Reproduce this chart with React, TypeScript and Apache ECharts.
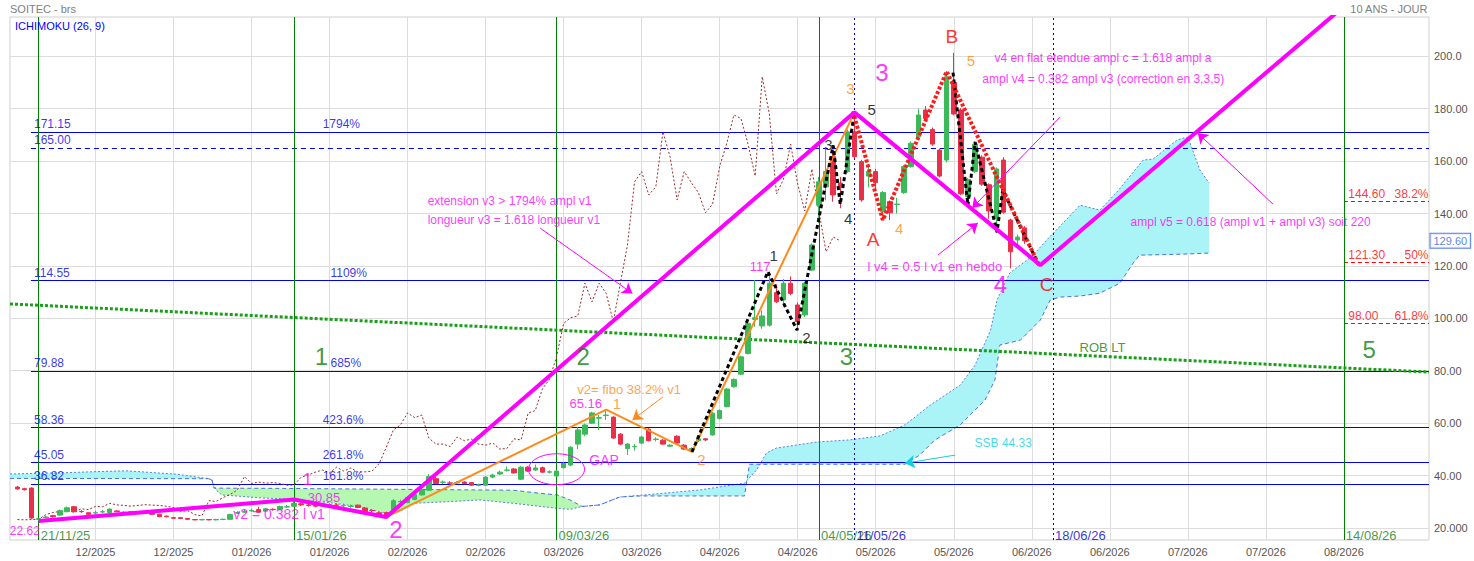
import React, { useEffect, useRef } from "react";
import * as echarts from "echarts";

const FONT = "'Liberation Sans', Arial, Helvetica, sans-serif";
const MAGENTA = "#ff00ff";
const ORANGE = "#ff8a1a";
const GREEN_C = "#3cba5a";
const RED_C = "#e8304a";
const BLUE = "#0000ee";
const CYAN = "#10d0e0";

// daily sessions [open, close, low, high]; index 3 = 21/11/25, 39 = 15/01/26, 76 = 09/03/26, 113 = 04/05/26
const ohlc: number[][] = [
  [35.6, 34.9, 34.6, 36.0], [35.0, 34.6, 34.3, 35.3], [35.2, 23.8, 23.5, 35.5], [23.3, 23.6, 22.62, 24.0],
  [23.9, 24.2, 23.6, 24.6], [24.7, 24.3, 24.0, 25.0], [24.9, 26.6, 24.6, 27.0], [26.2, 27.7, 26.0, 28.2],
  [28.1, 26.2, 25.9, 28.4], [26.3, 26.2, 25.8, 26.8], [25.8, 25.2, 25.0, 26.0], [25.7, 25.8, 25.2, 26.6],
  [26.1, 26.2, 25.6, 26.9], [25.9, 27.2, 25.7, 27.5], [26.5, 26.2, 26.0, 26.8], [26.0, 25.9, 25.6, 26.3],
  [26.0, 26.2, 25.8, 26.5], [26.1, 26.0, 25.7, 26.4], [25.9, 25.8, 25.5, 26.2], [25.8, 25.2, 25.0, 26.0],
  [25.2, 24.3, 24.1, 25.4], [24.5, 24.3, 24.0, 24.8], [23.9, 23.7, 23.5, 24.2], [23.9, 23.6, 23.4, 24.1],
  [23.6, 23.3, 23.1, 23.8], [23.2, 23.1, 22.9, 23.4], [23.1, 23.2, 22.9, 23.4], [23.2, 23.1, 22.9, 23.4],
  [23.1, 23.2, 22.9, 23.5], [23.2, 23.3, 23.0, 23.6], [23.3, 25.1, 23.1, 25.4], [25.6, 25.9, 25.3, 26.4],
  [26.0, 26.3, 25.7, 26.9], [26.5, 26.7, 26.2, 27.4], [27.0, 26.0, 25.8, 28.1], [26.4, 27.3, 26.2, 27.6],
  [27.1, 27.0, 26.6, 27.5], [27.0, 28.2, 26.8, 28.5], [28.0, 28.1, 27.6, 28.8], [28.3, 29.4, 28.0, 30.85],
  [29.2, 28.8, 28.3, 29.8], [28.8, 28.6, 28.1, 29.3], [28.5, 28.3, 27.9, 29.0], [28.4, 28.6, 28.0, 29.1],
  [28.7, 28.9, 28.3, 29.4], [28.8, 28.7, 28.3, 29.3], [28.5, 28.6, 28.0, 29.3], [28.2, 28.3, 27.7, 28.9],
  [28.7, 27.8, 27.5, 29.0], [27.6, 26.3, 26.0, 27.9], [26.7, 26.6, 26.1, 27.1], [25.8, 25.1, 24.8, 26.1],
  [25.9, 24.6, 24.2, 26.2], [26.6, 30.4, 26.2, 31.0], [30.0, 30.1, 29.4, 30.8], [29.7, 31.6, 29.4, 32.0],
  [30.9, 32.8, 30.6, 33.2], [32.6, 34.5, 32.3, 35.0], [34.4, 39.6, 34.1, 40.6], [38.8, 37.0, 36.6, 39.5],
  [37.4, 37.5, 36.8, 38.1], [37.2, 37.1, 36.6, 37.8], [37.2, 37.3, 36.8, 37.9], [37.5, 37.0, 36.7, 37.9],
  [37.3, 36.3, 36.0, 37.6], [36.3, 36.4, 35.9, 36.9], [36.3, 39.4, 36.0, 39.8], [39.4, 40.2, 39.0, 40.7],
  [40.6, 41.3, 40.2, 41.9], [42.0, 42.1, 41.5, 43.5], [42.5, 41.0, 40.7, 42.9], [38.6, 43.2, 38.3, 43.6],
  [43.2, 41.7, 41.4, 43.6], [42.1, 42.9, 41.8, 44.2], [43.0, 41.3, 41.0, 43.4], [41.3, 41.4, 40.8, 42.0],
  [39.8, 41.7, 39.5, 42.2], [43.0, 44.6, 42.7, 45.1], [44.0, 50.8, 43.6, 51.2], [52.0, 57.4, 50.1, 58.5],
  [55.8, 59.3, 55.0, 59.8], [60.0, 63.9, 59.6, 64.3], [61.9, 62.1, 57.4, 63.1], [62.9, 63.1, 61.2, 65.16],
  [62.3, 54.3, 54.0, 62.6], [55.8, 52.0, 51.6, 56.2], [50.3, 52.0, 47.8, 52.4], [51.0, 51.1, 49.5, 52.0],
  [52.4, 54.7, 52.0, 55.1], [57.7, 53.3, 53.0, 58.1], [53.8, 53.9, 53.0, 54.6], [53.5, 52.0, 51.7, 53.9],
  [51.2, 51.6, 50.9, 52.0], [55.0, 52.4, 52.1, 55.4], [51.6, 50.1, 49.8, 52.0], [49.6, 50.3, 49.0, 50.8],
  [53.3, 54.0, 52.8, 54.4], [54.0, 53.6, 53.2, 54.3], [55.5, 63.8, 55.2, 64.2], [61.8, 64.8, 61.4, 65.2],
  [66.3, 73.0, 66.0, 73.4], [73.9, 76.7, 73.5, 77.1], [78.7, 85.3, 78.3, 85.7], [86.6, 98.1, 86.2, 98.5],
  [99.6, 100.2, 96.8, 114.6], [97.1, 100.9, 96.0, 103.0], [97.4, 113.4, 96.8, 117.8], [109.8, 106.3, 105.8, 113.0],
  [107.0, 113.4, 104.5, 115.0], [113.4, 109.5, 108.8, 116.0], [105.1, 98.7, 95.5, 106.0], [101.3, 113.4, 100.5, 114.0],
  [118.4, 128.0, 118.0, 128.6], [143.2, 152.1, 136.3, 154.0], [150.2, 156.0, 145.0, 165.0], [161.7, 147.1, 144.5, 164.0],
  [151.6, 150.2, 142.0, 154.0], [156.0, 171.2, 155.5, 172.0], [171.2, 161.7, 161.0, 178.3], [159.8, 145.2, 144.5, 160.5],
  [154.3, 156.0, 150.0, 158.0], [156.0, 151.8, 149.0, 157.0], [140.7, 148.0, 139.0, 148.6], [144.5, 140.3, 137.5, 145.0],
  [143.4, 143.6, 140.0, 146.0], [148.0, 157.9, 147.5, 158.5], [157.9, 166.8, 157.5, 167.5], [169.3, 177.6, 168.8, 180.0],
  [179.5, 176.3, 175.8, 181.0], [172.1, 166.5, 165.8, 172.8], [164.2, 154.3, 153.8, 164.8], [160.4, 192.2, 159.5, 194.4],
  [190.0, 178.0, 177.5, 201.3], [179.5, 147.5, 147.0, 180.2], [146.5, 153.0, 145.8, 153.6], [156.0, 166.5, 155.5, 167.5],
  [161.5, 151.2, 150.6, 162.2], [151.0, 141.0, 138.0, 151.5], [138.2, 157.0, 132.5, 157.6], [160.4, 140.5, 139.9, 161.5],
  [137.5, 125.4, 119.1, 138.0], [129.9, 131.0, 128.0, 132.0], [134.5, 129.6, 128.4, 135.2],
];

const xTickValues = [11, 22, 33, 44, 55, 66, 77, 88, 99, 110, 121, 132, 143, 154, 165, 176, 187];
const xTickLabels = ["12/2025", "12/2025", "01/2026", "01/2026", "02/2026", "02/2026", "03/2026", "03/2026", "04/2026",
  "04/2026", "05/2026", "05/2026", "06/2026", "06/2026", "07/2026", "07/2026", "08/2026"];
const yTickValues = [20, 40, 60, 80, 100, 120, 140, 160, 180, 200];
const yTickLabels = ["20.000", "40.00", "60.00", "80.00", "100.00", "120.00", "140.00", "160.00", "180.00", "200.0"];

// Ichimoku cloud boundaries (span A dotted, span B dashed), [index, value]
const spanA1 = [[-1.05, 40.6], [7.0, 41.1], [11.2, 41.5], [15.4, 41.8], [18.7, 41.2], [22.5, 40.5], [25.7, 39.3], [26.9, 38.8], [27.4, 38.4]];
const spanB1 = [[-1.05, 38.9], [26.9, 38.8], [27.4, 38.4]];
const spanA2 = [[27.4, 38.4], [28.0, 34.5], [28.8, 32.6], [34.2, 31.5], [39.4, 30.8], [44.1, 29.6], [48.3, 28.1], [51.5, 25.8],
  [53.9, 26.2], [55.8, 29.4], [60.5, 30.0], [65.2, 30.7], [69.9, 29.4], [76.1, 27.5], [77.9, 27.1], [79.6, 28.2]];
const spanB2 = [[27.4, 38.4], [27.7, 35.2], [37.0, 35.1], [55.8, 34.7], [69.9, 34.4], [73.7, 33.2], [76.1, 32.6], [77.9, 30.7], [79.6, 28.2]];
const spanA3 = [[79.6, 28.2], [82.1, 28.8], [84.9, 31.8], [89.2, 32.8], [96.2, 34.5], [102.5, 37.1], [104.2, 42.1], [105.6, 48.6],
  [107.0, 50.5], [112.7, 52.8], [117.3, 53.6], [121.6, 55.1], [125.1, 59.3], [128.7, 66.9], [132.9, 74.5], [135.0, 82.1],
  [137.2, 95.5], [138.1, 107.0], [139.9, 117.3], [143.1, 123.8], [145.1, 129.9], [147.0, 135.2], [149.8, 143.2], [152.6, 141.3],
  [155.0, 148.2], [156.4, 152.8], [158.7, 160.4], [160.1, 160.8], [163.5, 168.1], [165.0, 169.2], [166.7, 156.6], [168.0, 151.6]];
const spanB3 = [[79.6, 28.2], [82.1, 28.8], [84.9, 31.8], [87.8, 32.2], [102.5, 32.2], [103.2, 44.3], [125.1, 44.3], [127.2, 47.8],
  [129.3, 53.5], [132.9, 59.3], [136.4, 68.8], [137.8, 76.4], [138.5, 89.8], [141.4, 91.7], [144.2, 99.3], [145.6, 107.0],
  [147.0, 108.1], [149.8, 108.5], [152.6, 109.6], [155.4, 113.4], [157.3, 121.1], [158.2, 124.1], [164.3, 124.5], [168.0, 124.9]];

const fibLevels = [171.15, 114.55, 79.88, 58.36, 45.05, 36.82];
const fibPercents = ["1794%", "1109%", "685%", "423.6%", "261.8%", "161.8%"];
const dashedLevel = 165.0;
const retraceLevels = [144.6, 121.3, 98.0];
const retracePercents = ["38.2%", "50%", "61.8%"];
const greenDates = [3, 39, 76, 113, 187];
const greenDateLabels = ["21/11/25", "15/01/26", "09/03/26", "04/05/26", "14/08/26"];
const blueDates = [118, 146];
const blueDateLabels = ["11/05/26", "18/06/26"];

const mainWave = [[3, 22.62], [39, 30.85], [52, 24.2], [118, 178.6], [144.2, 120.3], [190, 226]];
const orangeWave = [[52, 24.2], [83, 65.16], [95.1, 49.0], [118, 178.6]];
const blackWave1 = [[95.1, 49.0], [105.8, 117.8], [109.9, 95.5], [115, 166.0], [116, 143.5], [118, 178.6]];
const blackWave2 = [[131.9, 193.8], [134.0, 143.2], [135.0, 167.3], [138.1, 132.9], [138.9, 149.0], [144.0, 120.3]];
const abcWave = [[117.8, 179.0], [122.0, 137.5], [131.0, 194.2], [144.0, 120.3]];
const robLT = [[-1.05, 105.5], [199, 79.5]];
const lastPrice = 129.6;

export default function App() {
  const ref = useRef<HTMLDivElement>(null);
  useEffect(() => {
    const chart = echarts.init(ref.current!, null, { renderer: "svg" });

    const cloudSegments = [
      { a: spanA1, b: spanB1, fill: "#aaf4f8" },
      { a: spanA2, b: spanB2, fill: "#b6f7b2" },
      { a: spanA3, b: spanB3, fill: "#aaf4f8" },
    ];

    const chikou = ohlc.slice(26).map((d, k) => [k, d[1]]);

    type T = { t: string; i: number; v: number; c: string; s: number; a?: string; vb?: string };
    const texts: T[] = [
      { t: "extension v3 > 1794% ampl v1", i: 57.9, v: 144.4, c: MAGENTA, s: 12 },
      { t: "longueur v3 = 1.618 longueur v1", i: 57.9, v: 137.5, c: MAGENTA, s: 12 },
      { t: "v2= fibo 38.2% v1", i: 79.0, v: 72.6, c: ORANGE, s: 13 },
      { t: "65.16", i: 77.9, v: 67.3, c: MAGENTA, s: 13 },
      { t: "1", i: 84.0, v: 67.4, c: ORANGE, s: 15 },
      { t: "2", i: 95.9, v: 45.9, c: ORANGE, s: 15 },
      { t: "GAP", i: 80.7, v: 45.9, c: MAGENTA, s: 14 },
      { t: "117", i: 103.3, v: 119.6, c: MAGENTA, s: 13 },
      { t: "1", i: 106.1, v: 123.8, c: "#000", s: 15 },
      { t: "2", i: 110.7, v: 92.5, c: "#000", s: 15 },
      { t: "3", i: 113.8, v: 166.1, c: "#000", s: 15 },
      { t: "4", i: 116.6, v: 137.9, c: "#000", s: 15 },
      { t: "5", i: 119.9, v: 179.5, c: "#000", s: 15 },
      { t: "3", i: 116.9, v: 187.5, c: ORANGE, s: 15 },
      { t: "3", i: 121.0, v: 193.6, c: MAGENTA, s: 24 },
      { t: "A", i: 119.8, v: 129.9, c: "#ff0000", s: 19 },
      { t: "4", i: 123.8, v: 134.1, c: ORANGE, s: 15 },
      { t: "B", i: 130.9, v: 207.4, c: "#ff0000", s: 19 },
      { t: "5", i: 133.9, v: 198.2, c: ORANGE, s: 15 },
      { t: "v4 en flat étendue ampl c = 1.618 ampl a", i: 137.8, v: 199.0, c: MAGENTA, s: 12 },
      { t: "ampl v4 = 0.382 ampl v3 (correction en 3,3,5)", i: 136.1, v: 191.0, c: MAGENTA, s: 12 },
      { t: "l v4 = 0.5 l v1 en hebdo", i: 119.9, v: 119.6, c: MAGENTA, s: 13 },
      { t: "4", i: 137.7, v: 112.7, c: MAGENTA, s: 24 },
      { t: "C", i: 144.2, v: 112.7, c: "#ff0000", s: 19 },
      { t: "ampl v5 = 0.618 (ampl v1 + ampl v3) soit 220", i: 157.0, v: 136.4, c: MAGENTA, s: 12 },
      { t: "SSB 44.33", i: 135.0, v: 52.4, c: CYAN, s: 12 },
      { t: "ROB LT", i: 149.8, v: 88.7, c: "#108010", s: 13 },
      { t: "1", i: 42.0, v: 85.2, c: "#108010", s: 24 },
      { t: "2", i: 78.9, v: 85.2, c: "#108010", s: 24 },
      { t: "3", i: 116.0, v: 85.2, c: "#108010", s: 24 },
      { t: "5", i: 189.7, v: 87.9, c: "#108010", s: 24 },
      { t: "1", i: 40.3, v: 38.3, c: MAGENTA, s: 17 },
      { t: "30.85", i: 41.0, v: 31.4, c: MAGENTA, s: 13 },
      { t: "2", i: 52.5, v: 19.2, c: MAGENTA, s: 24 },
      { t: "v2 = 0.382 l v1", i: 30.5, v: 25.0, c: MAGENTA, s: 14 },
      { t: "22.62", i: -1.0, v: 18.8, c: MAGENTA, s: 12 },
    ];
    fibLevels.forEach((lv, k) => {
      texts.push({ t: lv.toFixed(2), i: 2.4, v: lv + 0.4, c: BLUE, s: 12, vb: "bottom" });
      texts.push({ t: fibPercents[k], i: k === 1 || k === 2 ? 44.2 : 43.1, v: lv + 0.4, c: BLUE, s: 12, vb: "bottom" });
    });
    texts.push({ t: dashedLevel.toFixed(2), i: 2.4, v: dashedLevel + 0.4, c: BLUE, s: 12, vb: "bottom" });
    retraceLevels.forEach((lv, k) => {
      texts.push({ t: lv.toFixed(2), i: 187.7, v: lv + 0.4, c: "#ff0000", s: 12, vb: "bottom" });
      texts.push({ t: retracePercents[k], i: 199, v: lv + 0.4, c: "#ff0000", s: 12, vb: "bottom", a: "right" });
    });
    greenDates.forEach((d, k) => texts.push({ t: greenDateLabels[k], i: d + 0.35, v: 16.9, c: "#108010", s: 13 }));
    blueDates.forEach((d, k) => texts.push({ t: blueDateLabels[k], i: d + 0.35, v: 16.9, c: "#0000cc", s: 13 }));

    const arrows = [
      { from: [73.7, 134.4], to: [86.7, 109.5], color: MAGENTA },
      { from: [91.0, 70.0], to: [86.7, 61.2], color: ORANGE },
      { from: [147.0, 176.8], to: [134.6, 142.1], color: MAGENTA },
      { from: [129.8, 124.2], to: [135.4, 136.4], color: MAGENTA },
      { from: [177.0, 143.6], to: [166.4, 170.7], color: MAGENTA },
      { from: [132.2, 47.8], to: [125.1, 44.7], color: CYAN },
    ];

    const lineData: any[] = [];
    fibLevels.forEach((lv) =>
      lineData.push([{ coord: [1.9, lv], lineStyle: { color: BLUE, width: 1, type: "solid" } }, { coord: [199, lv] }])
    );
    lineData.push([{ coord: [1.9, dashedLevel], lineStyle: { color: BLUE, width: 1, type: [5, 4] } }, { coord: [199, dashedLevel] }]);
    retraceLevels.forEach((lv) =>
      lineData.push([{ coord: [187, lv], lineStyle: { color: "#ff0000", width: 1, type: [4, 3] } }, { coord: [199, lv] }])
    );
    greenDates.forEach((d) => lineData.push({ xAxis: d, lineStyle: { color: "#008000", width: 1, type: "solid" } }));
    blueDates.forEach((d) => lineData.push({ xAxis: d, lineStyle: { color: "#0000cc", width: 1, type: [2, 3] } }));
    lineData.push([{ coord: robLT[0], lineStyle: { color: "#16a016", width: 3, type: [3, 2] } }, { coord: robLT[1] }]);

    const yLabelMap: Record<number, string> = {};
    yTickValues.forEach((v, k) => (yLabelMap[v] = yTickLabels[k]));
    const xLabelMap: Record<number, string> = {};
    xTickValues.forEach((v, k) => (xLabelMap[v] = xTickLabels[k]));

    const option: any = {
      animation: false,
      textStyle: { fontFamily: FONT },
      grid: { left: 10, right: 45, top: 17, bottom: 21, show: true, borderColor: "#cfcfcf", borderWidth: 1 },
      xAxis: {
        type: "value", min: -1.05, max: 199,
        axisLine: { show: false }, axisTick: { show: false }, splitLine: { show: false },
        axisLabel: {
          customValues: xTickValues, color: "#555", fontSize: 11, margin: 6, fontFamily: FONT,
          formatter: (v: number) => xLabelMap[Math.round(v)] ?? "",
        },
      },
      yAxis: {
        type: "value", position: "right", min: 15.4, max: 215,
        axisLine: { show: false }, axisTick: { show: false }, splitLine: { show: false },
        axisLabel: {
          customValues: yTickValues, color: "#555", fontSize: 11, margin: 5, fontFamily: FONT,
          formatter: (v: number) => yLabelMap[Math.round(v)] ?? "",
        },
      },
      graphic: [
        { type: "text", left: 10, top: 3, style: { text: "SOITEC - brs", fill: "#808080", fontSize: 11, fontFamily: FONT } },
        { type: "text", right: 46, top: 3, style: { text: "10 ANS - JOUR", fill: "#808080", fontSize: 11, fontFamily: FONT } },
        { type: "text", left: 15, top: 20, z: 100, style: { text: "ICHIMOKU (26, 9)", fill: "#0000ff", fontSize: 11, fontFamily: FONT } },
      ],
      series: [
        {
          type: "line", data: [[0, 100]], symbol: "none", lineStyle: { opacity: 0 }, silent: true, z: 0,
          markLine: {
            silent: true, symbol: "none", z: 0, label: { show: false }, emphasis: { disabled: true },
            lineStyle: { color: "#dddddd", width: 1, type: "solid" },
            data: [...xTickValues.map((x) => ({ xAxis: x })), ...yTickValues.map((y) => ({ yAxis: y }))],
          },
        },
        {
          type: "custom", silent: true, z: 1, data: cloudSegments.map(() => [50, 50]),
          renderItem: (params: any, api: any) => {
            const seg = cloudSegments[params.dataIndex];
            const a = seg.a.map((p) => api.coord(p));
            const b = seg.b.map((p) => api.coord(p));
            return {
              type: "group",
              children: [
                { type: "polygon", shape: { points: a.concat(b.slice().reverse()) }, style: { fill: seg.fill } },
                { type: "polyline", shape: { points: a }, style: { stroke: "#5a82dc", lineWidth: 1, lineDash: [2, 2], fill: null } },
                { type: "polyline", shape: { points: b }, style: { stroke: "#4a72d8", lineWidth: 1, lineDash: [4, 3], fill: null } },
              ],
            };
          },
        },
        {
          type: "line", data: chikou, symbol: "none", silent: true, z: 2,
          lineStyle: { color: "#9a2a2a", width: 1, type: [2, 2] },
        },
        {
          type: "line", data: [[0, 100]], symbol: "none", lineStyle: { opacity: 0 }, silent: true, z: 2,
          markLine: { silent: true, symbol: "none", z: 2, label: { show: false }, emphasis: { disabled: true }, data: lineData },
        },
        {
          type: "candlestick", silent: true, z: 3,
          data: ohlc.map((d, i) => [i, d[0], d[1], d[2], d[3]]),
          encode: { x: 0, y: [1, 2, 3, 4] },
          barWidth: 5,
          itemStyle: { color: GREEN_C, color0: RED_C, borderColor: GREEN_C, borderColor0: RED_C, borderWidth: 1 },
        },
        { type: "line", data: orangeWave, symbol: "none", silent: true, z: 5, lineStyle: { color: ORANGE, width: 2 } },
        { type: "line", data: blackWave1, symbol: "none", silent: true, z: 5, lineStyle: { color: "#000", width: 3, type: [4, 3] } },
        { type: "line", data: blackWave2, symbol: "none", silent: true, z: 5, lineStyle: { color: "#000", width: 3, type: [4, 3] } },
        { type: "line", data: abcWave, symbol: "none", silent: true, z: 5, lineStyle: { color: "#ff1a1a", width: 4, type: [3, 2] } },
        {
          type: "line", data: mainWave, symbol: "none", silent: true, z: 6, clip: true,
          lineStyle: { color: MAGENTA, width: 4 },
          markLine: {
            silent: true, symbol: ["none", "arrow"], symbolSize: 10, z: 7, label: { show: false }, emphasis: { disabled: true },
            data: arrows.map((a) => [{ coord: a.from, lineStyle: { color: a.color, width: 1, type: "solid" }, itemStyle: { color: a.color } }, { coord: a.to }]),
          },
        },
        {
          type: "custom", silent: true, z: 7, data: [[76.0, 42.4, 3.95, 5.9]],
          renderItem: (params: any, api: any) => {
            const c = api.coord([api.value(0), api.value(1)]);
            const s = api.size([api.value(2), api.value(3)]);
            return { type: "ellipse", shape: { cx: c[0], cy: c[1], rx: s[0], ry: s[1] }, style: { fill: null, stroke: MAGENTA, lineWidth: 1 } };
          },
        },
        {
          type: "scatter", silent: true, z: 10, symbol: "circle", symbolSize: 1, itemStyle: { color: "transparent" },
          data: texts.map((t) => ({
            value: [t.i, t.v],
            label: {
              show: true, position: [0, 0], formatter: t.t, color: t.c, fontSize: t.s, fontFamily: FONT,
              align: t.a || "left", verticalAlign: t.vb || "middle",
            },
          })),
        },
        {
          type: "scatter", silent: true, z: 11, symbol: "circle", symbolSize: 1, itemStyle: { color: "transparent" },
          data: [{
            value: [199, lastPrice],
            label: {
              show: true, position: "right", distance: 1, formatter: lastPrice.toFixed(2), color: "#2f5fe8", fontSize: 11,
              fontFamily: FONT, borderColor: "#2f5fe8", borderWidth: 1, padding: [2, 3, 1, 3], backgroundColor: "#fff",
            },
          }],
        },
      ],
    };
    chart.setOption(option);
    return () => chart.dispose();
  }, []);
  return <div ref={ref} style={{ position: "fixed", left: 0, top: 0, width: 1474, height: 561, background: "#fff" }} />;
}
